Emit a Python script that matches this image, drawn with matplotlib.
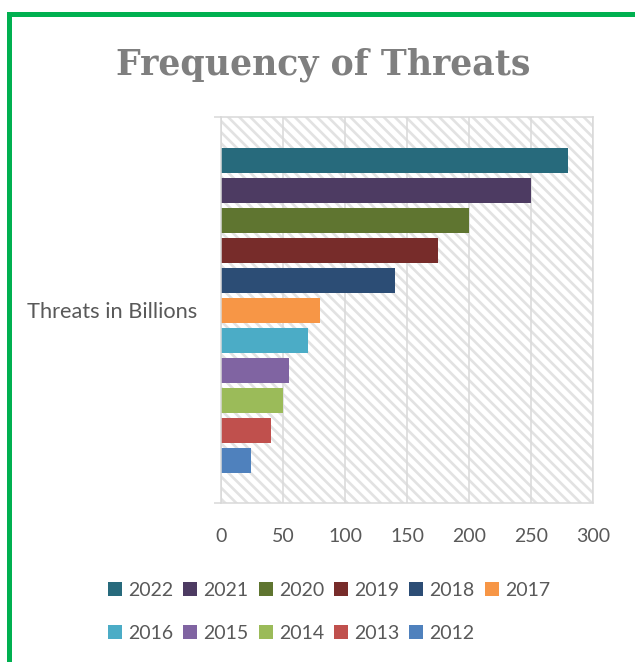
import numpy as np
import matplotlib
matplotlib.use("Agg")
import matplotlib.pyplot as plt
from matplotlib.patches import Rectangle, Patch

plt.rcParams["font.family"] = ["Lato", "DejaVu Sans"]
plt.rcParams["hatch.linewidth"] = 1.9

# data (billions of threats per year)
years = ["2022", "2021", "2020", "2019", "2018", "2017",
         "2016", "2015", "2014", "2013", "2012"]
threats = [280, 250, 200, 175, 140, 80, 70, 55, 50, 40, 24]
colors = ["#276A7C", "#4D3B62", "#5F7530", "#772C2A", "#2C4D75", "#F79646",
          "#4BACC6", "#8064A2", "#9BBB59", "#C0504D", "#4F81BD"]
category = "Threats in Billions"
xticks = [0, 50, 100, 150, 200, 250, 300]

W, H = 635, 662
fig = plt.figure(figsize=(W / 100, H / 100), dpi=100)
ax = fig.add_axes([221 / W, 1 - 503 / H, (593 - 221) / W, (503 - 117) / H])

grid_c = "#d9d9d9"
text_c = "#595959"

# hatched plot area
ax.add_patch(Rectangle((0, 0), 1, 1, transform=ax.transAxes, facecolor="white",
                       edgecolor="#e2e2e2", hatch="\\\\\\", lw=0, zorder=0))

n = len(years)
ypos = np.arange(n)[::-1]
for y, v, c in zip(ypos, threats, colors):
    ax.barh(y, v, height=0.833, color=c, zorder=2)

ax.set_xlim(xticks[0], xticks[-1])
ylo, yhi = -1.417, n - 1 + 1.45
ax.set_ylim(ylo, yhi)
ax.set_xticks(xticks)
ax.set_xticklabels([str(t) for t in xticks], fontsize=14, color=text_c)
ax.tick_params(axis="x", length=0, pad=18)
ax.set_yticks([(n - 1) / 2])
ax.set_yticklabels([category], fontsize=15.7, color=text_c)
ax.tick_params(axis="y", which="major", length=0, pad=17)
ax.set_yticks([ylo, yhi], minor=True)
ax.tick_params(axis="y", which="minor", length=5, width=1.1, color=grid_c)

ax.grid(axis="x", color=grid_c, lw=1.1, zorder=1)
ax.set_axisbelow(True)
for s in ax.spines.values():
    s.set_color(grid_c)
    s.set_linewidth(1.1)

fig.text(323 / W, 1 - 75 / H, "Frequency of Threats", ha="center", va="baseline",
         fontsize=25, fontweight="bold", color="#7f7f7f", family="DejaVu Serif")

# legend, reordered so the column-major fill reads row by row
order = [0, 6, 1, 7, 2, 8, 3, 9, 4, 10, 5]
handles = [Patch(facecolor=colors[i], label=years[i]) for i in order]
leg = fig.legend(handles=handles, ncol=6, loc="center",
                 bbox_to_anchor=(329 / W, 1 - 612 / H), frameon=False,
                 fontsize=14, labelcolor=text_c, handlelength=0.72, handleheight=0.72,
                 handletextpad=0.31, columnspacing=0.52, labelspacing=1.35, borderpad=0)

# green frame around the chart
fig.add_artist(Rectangle((9 / W, -0.1), 1.2, 1.1 - 14 / H, transform=fig.transFigure,
                         fill=False, edgecolor="#00B050", lw=3.6))

fig.savefig("out.png", dpi=100)
